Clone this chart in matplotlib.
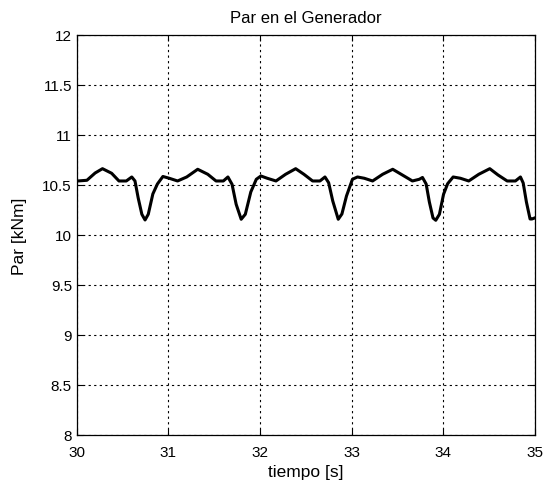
import matplotlib.pyplot as plt

# generator torque trace (time in s, torque in kNm)
t = [30.00, 30.01, 30.11, 30.20, 30.28, 30.38, 30.46, 30.54, 30.60, 30.635,
     30.67, 30.71, 30.745, 30.78, 30.83, 30.88, 30.94, 31.01, 31.10, 31.20,
     31.32, 31.43, 31.52, 31.60, 31.65, 31.695, 31.74, 31.795, 31.84, 31.90,
     31.96, 32.01, 32.08, 32.175, 32.28, 32.39, 32.48, 32.575, 32.655, 32.71,
     32.75, 32.795, 32.855, 32.895, 32.945, 33.01, 33.065, 33.14, 33.23, 33.34,
     33.45, 33.555, 33.665, 33.74, 33.775, 33.815, 33.85, 33.89, 33.92, 33.96,
     34.005, 34.05, 34.11, 34.19, 34.28, 34.39, 34.51, 34.60, 34.70, 34.79,
     34.845, 34.875, 34.91, 34.95, 34.97, 35.00]
par = [10.54, 10.54, 10.547, 10.62, 10.663, 10.617, 10.54, 10.54, 10.58, 10.54,
       10.37, 10.207, 10.15, 10.207, 10.41, 10.51, 10.585, 10.567, 10.54, 10.58,
       10.657, 10.607, 10.54, 10.54, 10.58, 10.507, 10.307, 10.157, 10.207, 10.43,
       10.557, 10.59, 10.567, 10.54, 10.607, 10.663, 10.607, 10.54, 10.54, 10.58,
       10.523, 10.34, 10.157, 10.21, 10.39, 10.557, 10.58, 10.567, 10.54, 10.607,
       10.657, 10.60, 10.54, 10.557, 10.575, 10.51, 10.33, 10.17, 10.147, 10.207,
       10.407, 10.513, 10.58, 10.567, 10.54, 10.607, 10.663, 10.60, 10.54, 10.54,
       10.58, 10.52, 10.33, 10.16, 10.16, 10.17]

xticks = [30, 31, 32, 33, 34, 35]
yticks = [8, 8.5, 9, 9.5, 10, 10.5, 11, 11.5, 12]
ytick_labels = ["8", "8.5", "9", "9.5", "10", "10.5", "11", "11.5", "12"]

plt.rcParams["font.family"] = ["Liberation Sans", "DejaVu Sans"]

fig = plt.figure(figsize=(5.45, 4.81), dpi=100)
ax = fig.add_axes([0.141, 0.0936, 0.84, 0.8316])

ax.plot(t, par, color="black", linewidth=2.2, solid_joinstyle="round")

ax.set_xlim(30, 35)
ax.set_ylim(8, 12)
ax.set_xticks(xticks)
ax.set_yticks(yticks)
ax.set_yticklabels(ytick_labels)
ax.tick_params(direction="in", length=4, width=0.8, labelsize=11,
               top=True, right=True, colors="black")
ax.tick_params(axis="x", pad=7)
ax.grid(True, color="black", linestyle=(0, (2, 3)), linewidth=0.8)
for s in ax.spines.values():
    s.set_linewidth(0.9)

ax.set_title("Par en el Generador", fontsize=12, pad=9)
ax.set_xlabel("tiempo [s]", fontsize=12.5, labelpad=4)
ax.set_ylabel("Par [kNm]", fontsize=12.5, labelpad=11)

fig.savefig("out.png", dpi=100)
